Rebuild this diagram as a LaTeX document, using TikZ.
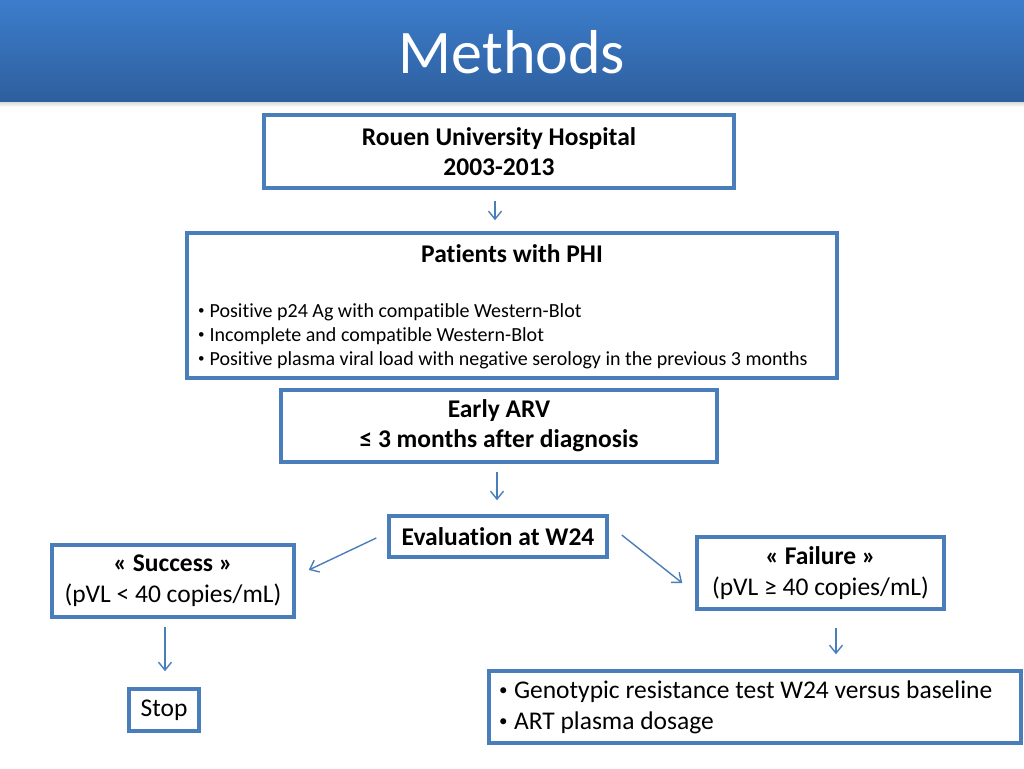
\documentclass[tikz,border=0pt]{standalone}
\usepackage{fontspec}
\setmainfont{Carlito}[Ligatures=NoCommon]
\usetikzlibrary{arrows.meta,calc,shadows}
\definecolor{boxblue}{HTML}{4A7EBB}
\definecolor{bartop}{HTML}{3C7DCB}
\definecolor{barbot}{HTML}{2E5F9F}
\newcommand{\bul}{\raisebox{0.3ex}{\fontsize{13}{13}\selectfont •}\hspace{0.25em}}
\newcommand{\bigbul}{\raisebox{0.3ex}{\fontsize{17}{17}\selectfont •}\hspace{0.25em}}
\tikzset{
  box/.style={draw=boxblue, line width=3.5pt, fill=white, rectangle, inner sep=0pt, align=center,
    drop shadow={opacity=0.12, shadow xshift=2pt, shadow yshift=-2pt}},
  hdr/.style={font=\fontsize{25.5}{30}\selectfont\bfseries},
  txt/.style={font=\fontsize{25.5}{31}\selectfont},
  flow/.style={draw=boxblue, line width=1.4pt, -{Straight Barb[length=8pt,width=13pt,line width=1.4pt]}}
}
\begin{document}
\begin{tikzpicture}[x=1pt,y=-1pt]
\useasboundingbox (0,0) rectangle (1024,768);
\fill[white] (0,0) rectangle (1024,768);
% title bar
\shade[top color=gray!45, bottom color=white] (0,99) rectangle (1024,107);
\shade[top color=bartop, bottom color=barbot] (0,0) rectangle (1024,101);
\node[text=white, font=\fontsize{62}{70}\selectfont] (title) at (512,52) {Methods};

% boxes
\node[box, hdr, minimum width=470pt, minimum height=73pt] (rouen) at (499,151.5)
  {Rouen University Hospital\\2003-2013};
\node[box, minimum width=650pt, minimum height=145pt] (phi) at (512,305.5) {};
\node[hdr, inner sep=0pt] (phititle) at (512,254) {Patients with PHI};
\node[font=\fontsize{20}{24}\selectfont, align=left, anchor=west, inner sep=0pt] (philist) at (198,336)
  {\bul Positive p24 Ag with compatible Western-Blot\\
   \bul Incomplete and compatible Western-Blot\\
   \bul Positive plasma viral load with negative serology in the previous 3 months};
\node[box, hdr, minimum width=436pt, minimum height=72pt] (arv) at (499,426)
  {Early ARV\\≤ 3 months after diagnosis};
\node[box, hdr, minimum width=218pt, minimum height=41pt] (eval) at (498,536.5)
  {Evaluation at W24};
\node[box, txt, minimum width=242pt, minimum height=72pt] (succ) at (173,581)
  {\textbf{« Success »}\\(pVL < 40 copies/mL)};
\node[box, txt, minimum width=247pt, minimum height=72pt] (fail) at (820.5,573)
  {\textbf{« Failure »}\\(pVL ≥ 40 copies/mL)};
\node[box, txt, minimum width=70pt, minimum height=42pt] (stop) at (164,710) {Stop};
\node[box, minimum width=532pt, minimum height=72pt] (geno) at (755,707) {};
\node[txt, align=left, anchor=west, inner sep=0pt] (genotext) at (499,707.5)
  {\bigbul Genotypic resistance test W24 versus baseline\\\bigbul ART plasma dosage};

% connectors
\draw[flow] ($(rouen.south)+(-4,11)$) -- ($(phi.north)+(-17,-11)$);
\draw[flow] ($(arv.south)+(-2,8)$) -- ($(eval.north)+(-1,-14)$);
\draw[flow] ($(eval.west)+(-11,1.5)$) -- ($(succ.east)+(13,-11)$);
\draw[flow] ($(eval.east)+(13,-1.5)$) -- ($(fail.west)+(-13,10)$);
\draw[flow] ($(succ.south)+(-8,8)$) -- ($(stop.north)+(1,-16)$);
\draw[flow] ($(fail.south)+(15.5,17)$) -- ($(geno.north)+(81,-15)$);
\end{tikzpicture}
\end{document}
